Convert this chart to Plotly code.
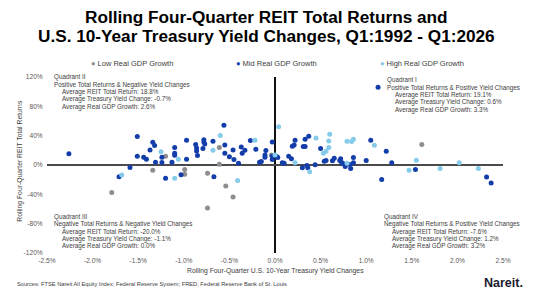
import plotly.graph_objects as go

# ---------------- data (x: yield change %, y: REIT total return %) ----------------
low_x = [-1.20, -1.34, -0.99, -0.99, -1.79, -0.74, -0.74, -0.61, -0.61, -0.54, -0.46, -0.04, 1.61]
low_y = [12.0, -7.0, -6.1, -12.5, -37.4, -11.1, -58.7, 23.8, 1.1, -28.8, -43.7, 13.8, 27.9]

mid_x = [-2.26, -1.51, -1.51, -1.44, -1.41, -1.59, -1.71, -1.34, -1.32, -1.37,
         -1.31, -1.24, -1.24, -1.20, -1.13, -1.10, -1.10, -1.10, -1.03, -0.97,
         -0.97, -0.87, -0.86, -0.86, -0.85, -0.78, -0.78, -0.77, -0.79, -0.68,
         -0.67, -0.56, -0.55, -0.55, -0.50, -0.46, -0.45, -0.40, -0.37, -0.33,
         -0.36, -0.27, -0.21, -0.17, -0.15, -0.11, -0.10, -0.11, -0.03, -0.03,
         -0.03, 0.02, 0.03, 0.08, 0.10, 0.15, 0.18, 0.19, 0.21, 0.22,
         0.30, 0.31, 0.33, 0.33, 0.37, 0.35, 0.36, 0.44, 0.50, 0.54,
         0.56, 0.63, 0.65, 0.71, 0.72, 0.73, 0.75, 0.77, 0.82, 0.83,
         0.86, 0.86, 1.00, 1.05, 1.22, 1.28, 1.17, 1.54, 2.32, 2.37, 1.13]
mid_y = [15.2, 38.7, 12.0, 10.6, 7.9, -3.4, -16.1, 31.0, 26.5, 20.6,
         3.8, 10.6, 3.4, -17.9, 3.8, 23.8, 16.1, 13.4, -13.4, 33.7,
         7.9, 27.9, 23.3, 19.2, 12.9, 34.6, 31.5, 28.8, 22.4, 32.4,
         -16.1, 54.1, 27.4, 16.1, 11.1, 20.6, 7.5, 2.5, 24.7, 20.1,
         16.1, 33.3, 21.5, 3.8, 4.8, 10.6, 19.7, 13.8, 31.5, 12.0,
         7.5, 11.5, 10.1, 2.9, 2.5, 12.0, 8.4, 25.6, 27.4, 33.7,
         -3.8, 25.1, 25.1, 35.1, 39.2, -0.7, -3.8, 0.2, 22.4, 5.2,
         6.1, 5.7, 9.3, 6.1, 8.4, 3.4, 1.6, -2.0, 0.7, -4.8,
         10.1, 2.9, 6.1, 33.7, 18.8, 2.9, -19.7, -6.1, -16.5, -24.7, 106.0]

high_x = [-1.68, -1.25, -1.06, -1.10, -0.60, -0.68, -0.41, -0.22, 0.00, 0.04,
          0.22, 0.38, 0.45, 0.60, 0.59, 0.59, 0.56, 0.53, 0.79, 0.84,
          0.86, 0.79, 1.09, 1.47, 1.55, 1.81, 2.02, 2.23]
high_y = [-13.8, 17.9, 7.9, -17.9, 40.1, 20.1, -21.1, 33.7, 13.8, 52.3,
          2.9, -9.3, 36.9, 41.9, 32.8, 23.8, 18.8, 16.1, 32.4, 31.9,
          35.1, 2.5, 26.9, -7.0, 6.6, -4.8, 2.9, -4.8]

series_names = ["Low Real GDP Growth", "Mid Real GDP Growth", "High Real GDP Growth"]
series_colors = ["#8E8E8E", "#133EAA", "#86CBEA"]

x_ticks = [-2.5, -2.0, -1.5, -1.0, -0.5, 0.0, 0.5, 1.0, 1.5, 2.0, 2.5]
y_ticks = [-120, -80, -40, 0, 40, 80, 120]

quadrants = {
    "II": ["Quadrant II", "Positive Total Returns & Negative Yield Changes",
           "Average REIT Total Return: 18.8%", "Average Treasury Yield Change: -0.7%",
           "Average Real GDP Growth: 2.6%"],
    "I": ["Quadrant I", "Positive Total Returns & Positive Yield Changes",
          "Average REIT Total Return: 19.1%", "Average Treasury Yield Change: 0.6%",
          "Average Real GDP Growth: 3.3%"],
    "III": ["Quadrant III", "Negative Total Returns & Negative Yield Changes",
            "Average REIT Total Return: -20.0%", "Average Treasury Yield Change: -1.1%",
            "Average Real GDP Growth: 0.0%"],
    "IV": ["Quadrant IV", "Negative Total Returns & Positive Yield Changes",
           "Average REIT Total Return: -7.6%", "Average Treasury Yield Change: 1.2%",
           "Average Real GDP Growth: 3.2%"],
}

# ---------------- layout geometry (pixels) ----------------
W, H = 537, 292
L, R, T, B = 47.3, 503.3, 76.7, 253.3
FONT = "Liberation Sans, Arial, sans-serif"
TXT = "#404040"


def px(xp):
    return (xp - L) / (R - L)


def py(yp):
    return (B - yp) / (B - T)


fig = go.Figure()
for xs, ys, name, col in zip([low_x, mid_x, high_x], [low_y, mid_y, high_y], series_names, series_colors):
    fig.add_trace(go.Scatter(x=xs, y=ys, mode="markers", name=name,
                             marker=dict(color=col, size=5, line=dict(width=0)),
                             showlegend=False))

ann = []
# titles
ann.append(dict(text="<b>Rolling Four-Quarter REIT Total Returns and</b>", x=px(267), y=py(16.5),
                font=dict(size=17.2, color="#000000", family=FONT)))
ann.append(dict(text="<b>U.S. 10-Year Treasury Yield Changes, Q1:1992 - Q1:2026</b>", x=px(267), y=py(35.5),
                font=dict(size=17.2, color="#000000", family=FONT)))
# legend (text)
for name, col, xl in zip(series_names, series_colors, [89, 234, 378]):
    ann.append(dict(text=f"<span style='color:{col}'>●</span> {name}", x=px(xl), y=py(63),
                    xanchor="left", font=dict(size=7.5, color=TXT, family=FONT)))
# quadrant notes
pos = {"II": (52, 60, 77), "I": (385, 393, 80), "III": (52, 60, 217), "IV": (382, 390, 217)}
for k, lines in quadrants.items():
    x0, x1, y0 = pos[k]
    for i, line in enumerate(lines):
        ann.append(dict(text=line, x=px(x0 if i < 2 else x1), y=py(y0 + i * 7.4),
                        xanchor="left", font=dict(size=6.3, color=TXT, family=FONT)))
# axis titles
ann.append(dict(text="Rolling Four-Quarter U.S. 10-Year Treasury Yield Changes", x=px(276), y=py(271.5),
                font=dict(size=6.8, color=TXT, family=FONT)))
ann.append(dict(text="Rolling Four-Quarter REIT Total Returns", x=px(20), y=py(161), textangle=-90,
                font=dict(size=6.8, color=TXT, family=FONT)))
# source & logo
ann.append(dict(text="Sources: FTSE Nareit All Equity Index; Federal Reserve System; FRED, Federal Reserve Bank of St. Louis",
                x=px(15), y=py(284), xanchor="left", font=dict(size=5.7, color=TXT, family=FONT)))
ann.append(dict(text="<b>Nareit.</b>", x=px(525), y=py(283), xanchor="right",
                font=dict(size=12.5, color="#1A1A2E", family=FONT)))

for a in ann:
    a.setdefault("xref", "paper")
    a.setdefault("yref", "paper")
    a.setdefault("showarrow", False)
    a.setdefault("xanchor", "center")
    a.setdefault("yanchor", "middle")

fig.update_layout(
    width=W, height=H,
    margin=dict(l=L, r=W - R, t=T, b=H - B, pad=0),
    paper_bgcolor="white", plot_bgcolor="white",
    font=dict(family=FONT, color=TXT),
    annotations=ann,
    showlegend=False,
    xaxis=dict(range=[-2.5, 2.5], tickvals=x_ticks, ticktext=[f"{v:.1f}%" for v in x_ticks],
               showgrid=False, showline=False, zeroline=True, zerolinecolor="#111111", zerolinewidth=1.5,
               tickfont=dict(size=6.6, color="#595959"), ticks="outside", ticklen=1.5,
               tickcolor="rgba(0,0,0,0)", fixedrange=True),
    yaxis=dict(range=[-120, 120], tickvals=y_ticks, ticktext=[f"{v}%" for v in y_ticks],
               showgrid=False, showline=False, zeroline=True, zerolinecolor="#4A4A4A", zerolinewidth=2,
               tickfont=dict(size=6.6, color="#595959"), ticks="outside", ticklen=2,
               tickcolor="rgba(0,0,0,0)", fixedrange=True),
)

fig.write_html("out.html", config={"displayModeBar": False})
